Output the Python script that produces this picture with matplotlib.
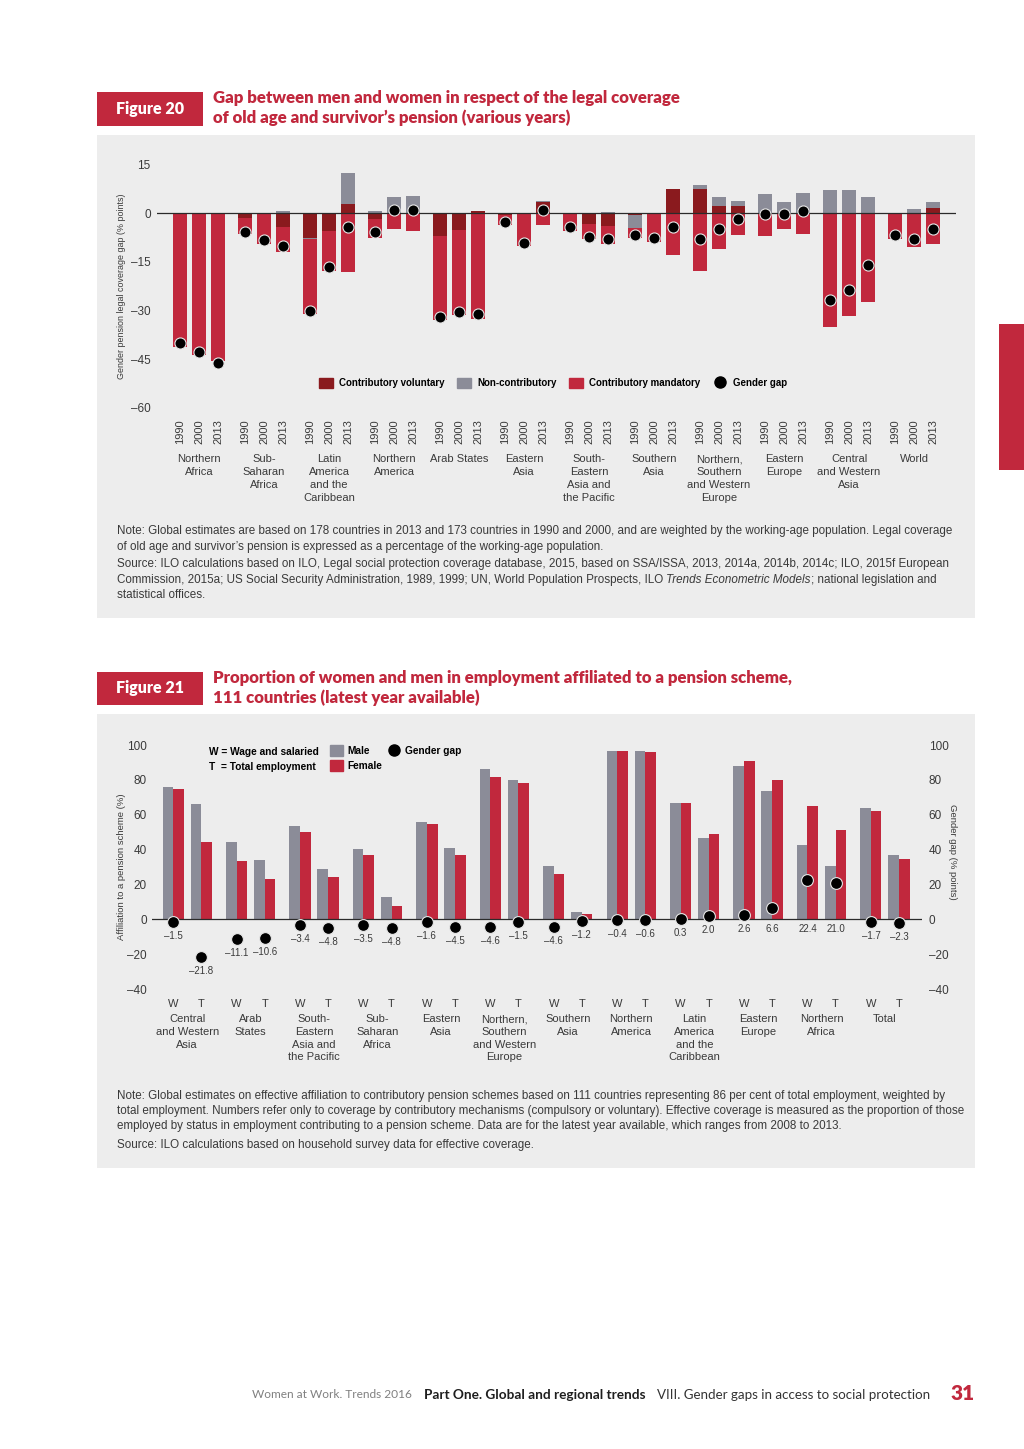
import numpy as np
import matplotlib
matplotlib.use('Agg')
import matplotlib.pyplot as plt
from matplotlib import font_manager
from matplotlib.patches import Rectangle, Patch
from matplotlib.lines import Line2D
from matplotlib.transforms import blended_transform_factory

# ---- Figure 20 : legal coverage gap (% points), 3 years per region
regions20 = ['Northern\nAfrica', 'Sub-\nSaharan\nAfrica', 'Latin\nAmerica\nand the\nCaribbean',
             'Northern\nAmerica', 'Arab States', 'Eastern\nAsia', 'South-\nEastern\nAsia and\nthe Pacific',
             'Southern\nAsia', 'Northern,\nSouthern\nand Western\nEurope', 'Eastern\nEurope',
             'Central\nand Western\nAsia', 'World']
years20 = ['1990', '2000', '2013']
voluntary20 = [0, 0, 0, -1.5, 0, -4.1, -7.7, -5.5, 2.9, -1.8, 0, 0,
               -6.9, -5.2, 0.7, -0.6, 0, 3.6, -0.3, -3.2, -3.8, -0.6, -0.3, 7.6,
               7.4, 2.3, 2.3, 0, 0, 0, 0, 0, 0, -0.3, -0.3, 1.6]
noncontrib20 = [0, 0, 0, 0, 0, 0.8, -0.4, 0, 9.4, 0.7, 4.9, 5.3,
                0, 0, 0, 0, 0, 0.3, 0, 0, 0.5, -4.1, 0, 0,
                1.4, 2.6, 1.6, 5.9, 3.6, 6.3, 7.2, 7.0, 5.0, 0, 1.2, 1.8]
mandatory20 = [-41.1, -43.8, -45.4, -5.0, -9.5, -8.0, -22.9, -12.2, -18.2, -5.8, -4.9, -5.5,
               -26.1, -26.3, -32.6, -2.9, -10.2, -3.6, -5.2, -4.9, -5.7, -2.8, -8.5, -12.9,
               -17.7, -11.0, -6.8, -7.1, -4.8, -6.5, -35.0, -31.8, -27.2, -7.5, -10.0, -9.4]
gap20 = [-40.0, -42.8, -46.2, -5.7, -8.3, -10.2, -30.0, -16.6, -4.3, -5.9, 0.9, 0.9,
         -32.0, -30.4, -30.9, -2.7, -9.1, 1.0, -4.2, -7.2, -7.9, -6.7, -7.7, -4.4,
         -7.9, -4.8, -1.8, -0.2, -0.2, 0.6, -26.7, -23.8, -16.1, -6.7, -8.1, -5.0]

# ---- Figure 21 : affiliation to a pension scheme (%)
regions21 = ['Central\nand Western\nAsia', 'Arab\nStates', 'South-\nEastern\nAsia and\nthe Pacific',
             'Sub-\nSaharan\nAfrica', 'Eastern\nAsia', 'Northern,\nSouthern\nand Western\nEurope',
             'Southern\nAsia', 'Northern\nAmerica', 'Latin\nAmerica\nand the\nCaribbean',
             'Eastern\nEurope', 'Northern\nAfrica', 'Total']
male_w = [76.0, 44.2, 53.3, 40.5, 56.0, 86.5, 30.4, 96.8, 66.5, 88.0, 42.8, 64.0]
female_w = [74.5, 33.3, 49.9, 37.0, 54.4, 81.9, 25.8, 96.4, 66.8, 90.6, 65.2, 62.3]
gap_w = [-1.5, -11.1, -3.4, -3.5, -1.6, -4.6, -4.6, -0.4, 0.3, 2.6, 22.4, -1.7]
male_t = [66.1, 33.9, 28.9, 12.7, 41.1, 79.7, 4.3, 96.6, 46.8, 73.5, 30.4, 36.9]
female_t = [44.3, 23.4, 24.1, 7.9, 36.6, 78.2, 3.1, 96.0, 48.8, 80.1, 51.4, 34.6]
gap_t = [-21.8, -10.6, -4.8, -4.8, -4.5, -1.5, -1.2, -0.6, 2.0, 6.6, 21.0, -2.3]

W, H = 1024, 1449
RED = '#c1283d'
DARKRED = '#8a1a1e'
GREY = '#8b8c98'
PANEL = '#ededed'
TXT = '#3a3a3a'

names = {f.name for f in font_manager.fontManager.ttflist}
NARROW = 'Liberation Sans Narrow' if 'Liberation Sans Narrow' in names else 'Liberation Sans'
HEAD = 'Lato' if 'Lato' in names else 'DejaVu Sans'
plt.rcParams['font.family'] = [NARROW, 'DejaVu Sans']


def fx(px):
    return px / W


def fy(py):
    return 1 - py / H


def box(x0, y0, x1, y1):
    return [x0 / W, 1 - y1 / H, (x1 - x0) / W, (y1 - y0) / H]


def dash(v, fmt='{:g}'):
    return fmt.format(v).replace('-', '\u2013')


fig = plt.figure(figsize=(W / 100, H / 100), dpi=100)
fig.patch.set_facecolor('white')
renderer = fig.canvas.get_renderer()


def rect(x0, y0, x1, y1, color, z=-10):
    fig.add_artist(Rectangle((x0 / W, 1 - y1 / H), (x1 - x0) / W, (y1 - y0) / H,
                             transform=fig.transFigure, facecolor=color, edgecolor='none', zorder=z))


def chain(x, y, pieces, gap=0, **kw):
    # write text pieces one after the other on a line
    for txt, extra in pieces:
        t = fig.text(fx(x), fy(y), txt, **kw, **extra)
        x = t.get_window_extent(renderer).x1 + gap
    return x


def header(y0, y1, num, lines, ty):
    rect(97, y0, 203, y1, RED, z=1)
    fig.text(fx(150), fy((y0 + y1) / 2), f'Figure {num}', color='white', fontsize=11.5,
             fontweight='heavy', family=HEAD, ha='center', va='center')
    for i, line in enumerate(lines):
        fig.text(fx(213), fy(ty + 19.5 * i), line, color=RED, fontsize=12.05,
                 fontweight='heavy', family=HEAD, va='center')


rect(97, 135, 975, 618, PANEL)
rect(97, 714, 975, 1168, PANEL)
rect(999, 324, 1024, 470, RED)

header(92, 126, 20, ['Gap between men and women in respect of the legal coverage',
                     'of old age and survivor\u2019s pension (various years)'], 98.5)
header(672, 705, 21, ['Proportion of women and men in employment affiliated to a pension scheme,',
                      '111 countries (latest year available)'], 678.5)

# ================= Figure 20 =================
ax1 = fig.add_axes(box(157, 164.5, 956, 408))
ax1.set_facecolor('none')
for s in ax1.spines.values():
    s.set_visible(False)
ax1.set_xlim(-0.646, 11.646)
ax1.set_ylim(-60, 15)

grp = np.repeat(np.arange(len(regions20)), 3)
off = np.tile([-0.292, 0, 0.292], len(regions20))
x20 = grp + off
bw = 0.215

pos_base = np.zeros(len(x20))
neg_base = np.zeros(len(x20))
for vals, col in [(voluntary20, DARKRED), (noncontrib20, GREY), (mandatory20, RED)]:
    v = np.array(vals, dtype=float)
    bottom = np.where(v >= 0, pos_base, neg_base)
    ax1.bar(x20, v, bw, bottom=bottom, color=col, edgecolor='none', zorder=2)
    pos_base = pos_base + np.clip(v, 0, None)
    neg_base = neg_base + np.clip(v, None, 0)

ax1.axhline(0, color='#2a2a2a', lw=0.9, zorder=3)
ax1.plot(x20, gap20, 'o', color='black', mec='#e6e6e6', mew=0.8, ms=8, zorder=5)

yt = [-60, -45, -30, -15, 0, 15]
ax1.set_yticks(yt)
ax1.set_yticklabels([dash(t) for t in yt])
ax1.set_xticks(x20)
ax1.set_xticklabels(years20 * len(regions20), rotation=90)
ax1.tick_params(axis='y', length=0, pad=4.5, labelsize=8.5, labelcolor=TXT)
ax1.tick_params(axis='x', length=0, pad=8, labelsize=8, labelcolor=TXT)

tr1 = blended_transform_factory(ax1.transData, fig.transFigure)
for j, r in enumerate(regions20):
    ax1.text(j, fy(454), r, transform=tr1, ha='center', va='top', fontsize=8,
             color=TXT, linespacing=1.38)

fig.text(fx(122), fy(286), 'Gender pension legal coverage gap (% points)', rotation=90,
         ha='center', va='center', fontsize=6.4, color=TXT)

handles = [Patch(color=DARKRED), Patch(color=GREY), Patch(color=RED),
           Line2D([], [], marker='o', ls='none', color='black', ms=8)]
labels = ['Contributory voluntary', 'Non-contributory', 'Contributory mandatory', 'Gender gap']
fig.legend(handles, labels, loc='center left', bbox_to_anchor=(fx(319), fy(383)),
           bbox_transform=fig.transFigure, ncol=4, frameon=False, borderpad=0, borderaxespad=0,
           handlelength=1.45, handleheight=1.25, handletextpad=0.6, columnspacing=1.3,
           prop={'family': NARROW, 'weight': 'bold', 'size': 7})

# ================= Figure 21 =================
ax2 = fig.add_axes(box(151.7, 745, 921.7, 989))
ax2.set_facecolor('none')
for s in ax2.spines.values():
    s.set_visible(False)
ax2.set_xlim(-0.56, 11.58)
ax2.set_ylim(-40, 100)

g = np.arange(len(regions21))
xw = g - 0.221
xt = g + 0.221
bw2 = 0.167
ax2.bar(xw - bw2 / 2, male_w, bw2, color=GREY, zorder=2)
ax2.bar(xw + bw2 / 2, female_w, bw2, color=RED, zorder=2)
ax2.bar(xt - bw2 / 2, male_t, bw2, color=GREY, zorder=2)
ax2.bar(xt + bw2 / 2, female_t, bw2, color=RED, zorder=2)
ax2.axhline(0, color='#2a2a2a', lw=0.9, zorder=3)

yt2 = [-40, -20, 0, 20, 40, 60, 80, 100]
ax2.set_yticks(yt2)
ax2.set_yticklabels([dash(t) for t in yt2])
xs = np.concatenate([xw, xt])
ax2.set_xticks(xs)
ax2.set_xticklabels(['W'] * len(g) + ['T'] * len(g))
ax2.tick_params(axis='y', length=0, pad=3.5, labelsize=8.5, labelcolor=TXT)
ax2.tick_params(axis='x', length=0, pad=7, labelsize=8, labelcolor=TXT)

ax2r = ax2.twinx()
ax2r.set_ylim(-40, 100)
for s in ax2r.spines.values():
    s.set_visible(False)
ax2r.set_yticks(yt2)
ax2r.set_yticklabels([dash(t) for t in yt2])
ax2r.tick_params(axis='y', length=0, pad=5, labelsize=8.5, labelcolor=TXT)

gaps = np.concatenate([gap_w, gap_t])
ax2r.plot(xs, gaps, 'o', color='black', mec='#e6e6e6', mew=0.8, ms=8.5, zorder=5)
for xv, gv in zip(xs, gaps):
    ax2r.annotate(dash(gv, '{:.1f}'), (xv, min(gv, 2.5)), xytext=(0, -10), textcoords='offset points',
                  ha='center', va='center', fontsize=7, color=TXT)

tr2 = blended_transform_factory(ax2.transData, fig.transFigure)
for j, r in enumerate(regions21):
    ax2.text(j, fy(1014), r, transform=tr2, ha='center', va='top', fontsize=8,
             color=TXT, linespacing=1.35)

fig.text(fx(122), fy(867), 'Affiliation to a pension scheme (%)', rotation=90,
         ha='center', va='center', fontsize=6.8, color=TXT)
fig.text(fx(953), fy(852), 'Gender gap (% points)', rotation=-90,
         ha='center', va='center', fontsize=6.8, color=TXT)

fig.text(fx(209), fy(752), 'W = Wage and salaried', fontsize=7.3, fontweight='bold', va='center')
fig.text(fx(209), fy(767), 'T  = Total employment', fontsize=7.3, fontweight='bold', va='center')
fig.legend([Patch(color=GREY), Patch(color=RED),
            Line2D([], [], marker='o', ls='none', color='black', ms=8),
            Patch(color='none')],
           ['Male', 'Female', 'Gender gap', ''], loc='upper left',
           bbox_to_anchor=(fx(330), fy(745.5)), bbox_transform=fig.transFigure, ncol=2,
           frameon=False, borderpad=0, borderaxespad=0, handlelength=1.3, handleheight=1.2,
           handletextpad=0.45, columnspacing=0.5, labelspacing=0.4,
           prop={'family': NARROW, 'weight': 'bold', 'size': 7.3})

# ================= notes =================
NOTE = dict(fontsize=8.35, color=TXT, va='center')
fig.text(fx(117), fy(531), 'Note: Global estimates are based on 178 countries in 2013 and 173 countries in 1990 '
         'and 2000, and are weighted by the working-age population. Legal coverage', **NOTE)
fig.text(fx(117), fy(547), 'of old age and survivor\u2019s pension is expressed as a percentage of the '
         'working-age population.', **NOTE)
fig.text(fx(117), fy(564), 'Source: ILO calculations based on ILO, Legal social protection coverage database, '
         '2015, based on SSA/ISSA, 2013, 2014a, 2014b, 2014c; ILO, 2015f European', **NOTE)
chain(117, 580, [('Commission, 2015a; US Social Security Administration, 1989, 1999; UN, '
                  'World Population Prospects, ILO ', {}),
                 ('Trends Econometric Models', {'style': 'italic'}),
                 ('; national legislation and', {})], **NOTE)
fig.text(fx(117), fy(595), 'statistical offices.', **NOTE)

fig.text(fx(117), fy(1096), 'Note: Global estimates on effective affiliation to contributory pension schemes based '
         'on 111 countries representing 86 per cent of total employment, weighted by', **NOTE)
fig.text(fx(117), fy(1111), 'total employment. Numbers refer only to coverage by contributory mechanisms '
         '(compulsory or voluntary). Effective coverage is measured as the proportion of those', **NOTE)
fig.text(fx(117), fy(1126), 'employed by status in employment contributing to a pension scheme. Data are for '
         'the latest year available, which ranges from 2008 to 2013.', **NOTE)
fig.text(fx(117), fy(1145), 'Source: ILO calculations based on household survey data for effective coverage.',
         **NOTE)

# ================= footer =================
chain(252, 1395, [('Women at Work. Trends 2016', {'color': '#808080', 'fontsize': 8.6}),
                  ('Part One. Global and regional trends', {'fontweight': 'bold', 'color': '#1e1e1e',
                                                           'fontsize': 9.8}),
                  ('VIII. Gender gaps in access to social protection', {'color': '#333333',
                                                                         'fontsize': 9.6})],
      gap=12, family=HEAD, va='center')
fig.text(fx(975), fy(1394), '31', family=HEAD, fontsize=15, fontweight='heavy', color=RED,
         va='center', ha='right')

fig.savefig('out.png', dpi=100, facecolor='white')
